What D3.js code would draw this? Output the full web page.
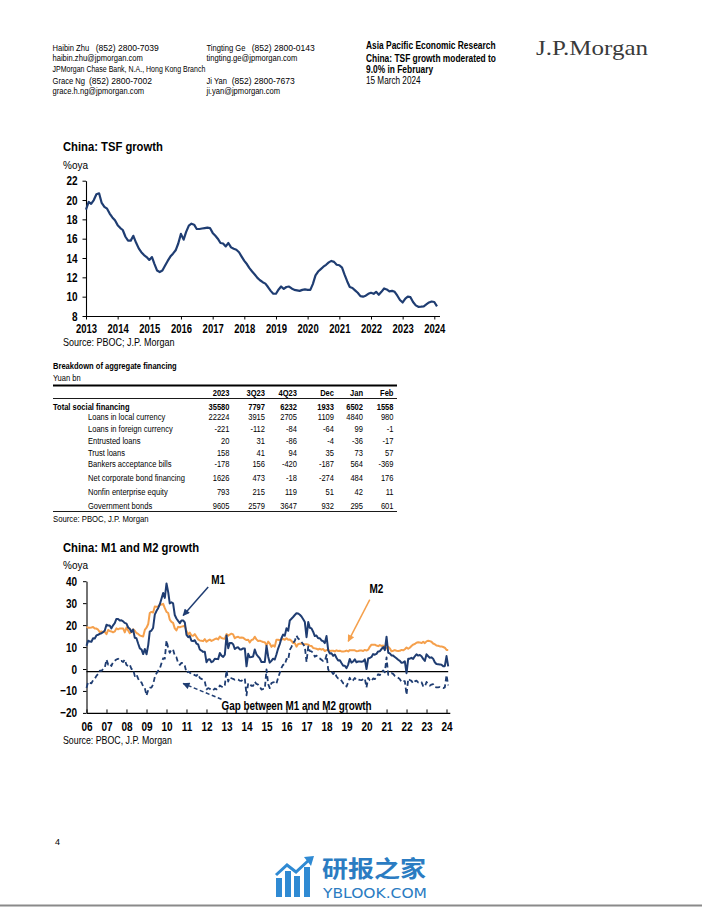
<!DOCTYPE html>
<html><head><meta charset="utf-8">
<script src="https://cdn.jsdelivr.net/npm/d3@7"></script>
<style>body{margin:0;background:#fff}svg{display:block}</style>
</head><body>
<svg id="page" width="702" height="907"></svg>
<script>
// ---------------- DATA ----------------
const tsfStart = [2013, 0];
const tsfGrowth = [
19.0,19.8,19.6,20.0,20.6,20.7,19.7,19.3,19.1,18.6,18.2,17.9,
17.4,17.1,16.9,16.2,15.8,15.8,16.3,15.6,15.0,14.6,14.3,14.1,
13.8,14.1,13.4,12.7,12.55,12.7,13.2,13.7,14.15,14.45,14.8,15.5,
16.5,15.9,16.7,17.35,17.55,17.45,17.0,17.0,17.05,17.1,17.15,17.1,
16.6,16.3,16.0,15.55,15.5,15.2,15.55,15.1,14.95,14.85,14.6,14.15,
13.7,13.35,12.95,12.6,12.3,11.95,11.7,11.5,11.35,11.0,10.6,10.3,
10.3,10.75,11.05,10.8,11.0,11.05,10.85,10.7,10.65,10.6,10.7,10.75,
10.7,10.7,11.3,12.2,12.6,12.85,13.1,13.3,13.55,13.7,13.6,13.3,
13.25,13.0,12.3,11.6,11.0,10.9,10.65,10.4,10.05,10.0,10.1,10.3,
10.4,10.3,10.5,10.2,10.5,10.85,10.75,10.55,10.6,10.5,10.1,9.65,
9.4,9.8,10.0,9.95,9.45,9.1,8.95,8.97,9.0,9.2,9.4,9.5,
9.45,9.0];
const tsfYTicks = [8,10,12,14,16,18,20,22];
const tsfXTicks = [2013,2014,2015,2016,2017,2018,2019,2020,2021,2022,2023,2024];

const moneyStart = [2006, 0];
const m1Growth = [
10.6,12.9,12.5,12.4,14.0,13.9,15.3,15.6,16.0,16.3,16.8,17.5,
20.2,19.8,19.8,18.5,19.9,20.9,22.8,22.8,22.1,22.2,21.7,21.0,
20.7,18.9,18.3,16.9,18.0,14.2,14.0,11.6,9.4,8.9,6.8,9.1,
6.7,10.9,17.0,17.5,18.7,24.8,26.4,27.7,29.5,32.0,34.6,32.4,
39.0,35.0,29.9,30.4,29.9,24.6,23.0,21.9,20.9,22.1,22.1,21.2,
15.5,14.5,15.0,12.9,12.7,13.1,11.6,11.2,8.9,8.4,7.8,7.9,
3.1,4.3,4.4,3.1,3.5,4.7,4.6,4.5,7.3,6.1,5.5,6.5,
15.3,9.5,11.9,11.9,11.3,9.1,9.7,9.9,8.9,8.9,9.4,9.3,
1.2,6.9,5.4,5.5,5.7,8.9,6.7,5.7,4.8,3.2,3.2,3.2,
10.6,5.6,2.9,3.7,4.7,4.3,6.6,9.3,11.4,14.0,15.7,15.2,
18.6,17.4,22.1,22.9,23.7,24.6,25.4,25.3,24.7,23.9,22.7,21.4,
14.5,21.4,18.8,18.5,17.0,15.0,15.3,14.0,14.0,13.0,12.7,11.8,
15.0,8.5,7.1,7.2,6.0,6.6,5.1,3.9,4.0,2.7,1.5,1.5,
0.4,2.0,4.6,2.9,3.4,4.4,3.1,3.4,3.4,3.3,3.5,4.4,
0.0,4.8,5.0,5.5,6.8,6.5,6.9,8.0,8.1,9.1,10.0,8.6,
14.7,7.4,7.1,6.2,6.1,5.5,4.9,4.2,3.7,2.8,3.0,3.5,
-1.9,4.7,4.7,5.1,4.6,5.8,6.7,6.1,6.4,5.8,4.6,3.7,
6.7,5.8,5.1,5.3,4.7,3.1,2.3,2.2,2.1,1.9,1.3,1.3,
5.9,1.2];
const m2Growth = [
19.2,18.8,18.8,18.9,19.1,18.4,18.4,17.9,16.8,17.1,16.8,16.9,
15.9,17.8,17.3,17.1,16.7,17.1,18.5,18.1,18.5,18.5,18.5,16.7,
18.9,17.5,16.3,16.9,18.1,17.4,16.4,16.0,15.3,15.0,14.8,17.8,
18.8,20.5,25.5,26.0,25.7,28.5,28.4,28.5,29.3,29.4,29.7,27.7,
26.0,25.5,22.5,21.5,21.0,18.5,17.6,19.2,19.0,19.3,19.5,19.7,
17.2,15.7,16.6,15.3,15.1,15.9,14.7,13.5,13.0,12.9,12.7,13.6,
12.4,13.0,13.4,12.8,13.2,13.6,13.9,13.5,14.8,14.1,13.9,13.8,
15.9,15.2,15.7,16.1,15.8,14.0,14.5,14.7,14.2,14.3,14.2,13.6,
13.2,13.3,12.1,13.2,13.4,14.7,13.5,12.8,12.9,12.6,12.3,12.2,
10.8,12.5,11.6,10.1,10.8,10.2,13.3,13.3,13.1,13.5,13.7,13.3,
14.0,13.3,13.4,12.8,11.8,11.8,10.2,11.4,11.5,11.6,11.4,11.3,
11.3,11.1,10.6,10.5,9.6,9.4,9.2,8.9,9.2,8.8,9.1,8.2,
8.6,8.8,8.2,8.3,8.3,8.0,8.5,8.2,8.3,8.0,8.0,8.1,
8.4,8.0,8.6,8.5,8.5,8.5,8.1,8.2,8.4,8.4,8.2,8.7,
8.4,8.8,10.1,11.1,11.1,11.1,10.7,10.4,10.9,10.5,10.7,10.1,
9.4,10.1,9.4,8.1,8.3,8.6,8.3,8.2,8.3,8.7,8.5,9.0,
9.8,9.2,9.7,10.5,11.1,11.4,12.0,12.2,12.1,11.8,12.4,11.8,
12.6,12.9,12.7,12.4,11.6,11.3,10.7,10.6,10.3,10.3,10.0,9.7,
8.7,8.7];
const m1m2Gap = [
-8.6,-5.9,-6.3,-6.5,-5.1,-4.5,-3.1,-2.3,-0.8,-0.8,0.0,0.6,
4.3,2.0,2.5,1.4,3.2,3.8,4.3,4.7,3.6,3.7,3.2,4.3,
1.8,1.4,2.0,0.0,-0.1,-3.2,-2.4,-4.4,-5.9,-6.1,-8.0,-8.7,
-12.1,-9.6,-8.5,-8.5,-7.0,-3.7,-2.0,-0.8,0.2,2.6,4.9,4.7,
13.0,9.5,7.4,8.9,8.9,6.1,5.4,2.7,1.9,2.8,2.6,1.5,
-1.7,-1.2,-1.6,-2.4,-2.4,-2.8,-3.1,-2.3,-4.1,-4.5,-4.9,-5.7,
-9.3,-8.7,-9.0,-9.7,-9.7,-8.9,-9.3,-9.0,-7.5,-8.0,-8.4,-7.3,
-0.6,-5.7,-3.8,-4.2,-4.5,-4.9,-4.8,-4.8,-5.3,-5.4,-4.8,-4.3,
-12.0,-6.4,-6.7,-7.7,-7.7,-5.8,-6.8,-7.1,-8.1,-9.4,-9.1,-9.0,
-0.2,-6.9,-8.7,-6.4,-6.1,-5.9,-6.7,-4.0,-1.7,0.5,2.0,1.9,
4.6,4.1,8.7,10.1,11.9,12.8,15.2,13.9,13.2,12.3,11.3,10.1,
3.2,10.3,8.2,8.0,7.4,5.6,6.1,5.1,4.8,4.2,3.6,3.6,
6.4,-0.3,-1.1,-1.1,-2.3,-1.4,-3.4,-4.3,-4.3,-5.3,-6.5,-6.6,
-8.0,-6.0,-4.0,-5.6,-5.1,-4.1,-5.0,-4.8,-5.0,-5.1,-4.7,-4.3,
-8.4,-4.0,-5.1,-5.6,-4.3,-4.6,-3.8,-2.4,-2.8,-1.4,-0.7,-1.5,
5.3,-2.7,-2.3,-1.9,-2.2,-3.1,-3.4,-4.0,-4.6,-5.9,-5.5,-5.5,
-11.7,-4.5,-5.0,-5.4,-6.5,-5.6,-5.3,-6.1,-5.7,-6.0,-7.8,-8.1,
-5.9,-7.1,-7.6,-7.1,-6.9,-8.2,-8.4,-8.4,-8.2,-8.4,-8.7,-8.4,
-2.8,-7.5];
const moneyYTicks = [-20,-10,0,10,20,30,40];
const moneyXTicks = [2006,2007,2008,2009,2010,2011,2012,2013,2014,2015,2016,2017,2018,2019,2020,2021,2022,2023,2024];
const gapReference = -1.2;

const tableColumns = ["2023","3Q23","4Q23","Dec","Jan","Feb"];
const tableRows = ["Total social financing","Loans in local currency","Loans in foreign currency","Entrusted loans","Trust loans","Bankers acceptance bills","Net corporate bond financing","Nonfin enterprise equity","Government bonds"];
const tableValues = [
[35580,7797,6232,1933,6502,1558],
[22224,3915,2705,1109,4840,980],
[-221,-112,-84,-64,99,-1],
[20,31,-86,-4,-36,-17],
[158,41,94,35,73,57],
[-178,156,-420,-187,564,-369],
[1626,473,-18,-274,484,176],
[793,215,119,51,42,11],
[9605,2579,3647,932,295,601]];

// ---------------- SETUP ----------------
const SANS = "'Liberation Sans',Arial,sans-serif";
const BLUE = "#1f3d72", ORANGE = "#f5a04c";
const svg = d3.select("#page");
svg.append("rect").attr("width",702).attr("height",907).attr("fill","#fff");

// texts are condensed horizontally (factor k) to mimic the narrow typeface of the original
function txt(x,y,s,o={}){
  const t = svg.append("text").attr("x",x).attr("y",y).text(s)
    .attr("font-family",o.ff||SANS).attr("font-size",o.size||10)
    .attr("font-weight",o.bold?"bold":"normal").attr("fill",o.fill||"#000")
    .attr("text-anchor",o.anchor||"start");
  if (o.k) t.attr("data-k",o.k);
  return t;
}

// ---------------- HEADER ----------------
const H = {size:9.5,k:0.8}, P = {size:9.5,k:0.9};
txt(52.5,50.7,"Haibin Zhu",H); txt(95.7,50.7,"(852) 2800-7039",P);
txt(52.5,60.7,"haibin.zhu@jpmorgan.com",H);
txt(52.5,72.2,"JPMorgan Chase Bank, N.A., Hong Kong Branch",{size:9,k:0.78});
txt(52.5,84,"Grace Ng",H); txt(89,84,"(852) 2800-7002",P);
txt(52.5,94,"grace.h.ng@jpmorgan.com",H);
txt(206.5,50.7,"Tingting Ge",H); txt(251.7,50.7,"(852) 2800-0143",P);
txt(206.5,60.7,"tingting.ge@jpmorgan.com",H);
txt(206.5,84,"Ji Yan",H); txt(231.7,84,"(852) 2800-7673",P);
txt(206.5,94,"ji.yan@jpmorgan.com",H);
txt(366,49.5,"Asia Pacific Economic Research",{size:10,bold:true,k:0.84});
txt(366,62,"China: TSF growth moderated to",{size:10,bold:true,k:0.84});
txt(366,73,"9.0% in February",{size:10,bold:true,k:0.84});
txt(366,84.5,"15 March 2024",{size:10,k:0.82});
txt(536,55,"J.P.Morgan",{ff:"'Liberation Serif','Times New Roman',serif",size:21,fill:"#3a3a3a"})
  .attr("textLength",112).attr("lengthAdjust","spacingAndGlyphs");

function styleAxis(g,size,k){
  g.attr("font-family",SANS).attr("font-size",size).attr("font-weight","bold");
  g.selectAll("path.domain").attr("stroke","#000").attr("stroke-width",1.1);
  g.selectAll(".tick line").attr("stroke","#000").attr("stroke-width",1);
  g.selectAll(".tick text").attr("fill","#000").attr("data-k",k);
}

// ---------------- TSF CHART ----------------
txt(63,151.5,"China: TSF growth",{size:13,bold:true,k:0.865});
txt(63,169,"%oya",{size:11.5,k:0.87});
const tsfDates = d3.timeMonth.range(new Date(tsfStart[0],tsfStart[1],1), new Date(tsfStart[0],tsfStart[1]+tsfGrowth.length,1));
const tx = d3.scaleTime().domain([new Date(2013,0,1), new Date(2024,2,1)]).range([86, 439.5]);
const ty = d3.scaleLinear().domain([8,22]).range([316,180.7]);
const tsfY = svg.append("g").attr("transform","translate(86,0)")
  .call(d3.axisLeft(ty).tickValues(tsfYTicks).tickSize(3.5).tickSizeOuter(0).tickPadding(5).tickFormat(d3.format("d")));
styleAxis(tsfY,12.5,0.8);
const tsfX = svg.append("g").attr("transform","translate(0,316)")
  .call(d3.axisBottom(tx).tickValues(tsfXTicks.map(y=>new Date(y,0,1))).tickSize(3.5).tickSizeOuter(0).tickPadding(4.5).tickFormat(d3.timeFormat("%Y")));
styleAxis(tsfX,12.5,0.76);
svg.append("path").datum(tsfGrowth)
  .attr("fill","none").attr("stroke",BLUE).attr("stroke-width",2.2).attr("stroke-linejoin","round")
  .attr("d",d3.line().x((d,i)=>tx(tsfDates[i])).y(d=>ty(d)));
txt(63,346.5,"Source: PBOC; J.P. Morgan",{size:11,k:0.82});

// ---------------- TABLE ----------------
const TK = 0.84;
txt(53,369.5,"Breakdown of aggregate financing",{size:9,bold:true,k:TK});
txt(53,381,"Yuan bn",{size:9,k:TK});
const colX = d3.scaleOrdinal().domain(tableColumns).range([229.5,265,297,334,363,393.5]);
const rowY = d3.scaleOrdinal().domain(["__head"].concat(tableRows)).range([392.7,406.7,417.3,428.7,441.3,452.7,464,478.3,491.7,506.3]);
svg.append("line").attr("x1",53).attr("x2",397).attr("y1",385.5).attr("y2",385.5).attr("stroke","#000").attr("stroke-width",2);
svg.append("line").attr("x1",53).attr("x2",397).attr("y1",398.5).attr("y2",398.5).attr("stroke","#000").attr("stroke-width",0.9);
svg.append("line").attr("x1",53).attr("x2",397).attr("y1",511.5).attr("y2",511.5).attr("stroke","#000").attr("stroke-width",0.9);
tableColumns.forEach(c=>{
  txt(colX(c),rowY("__head")+3.2,c,{size:9,bold:true,anchor:"end",k:TK});
});
tableRows.forEach((r,i)=>{
  const bold = i===0;
  txt(bold?53:88,rowY(r)+3.2,r,{size:9,bold:bold,k:TK});
  tableColumns.forEach((c,j)=>{
    txt(colX(c),rowY(r)+3.2,String(tableValues[i][j]),{size:9,bold:bold,anchor:"end",k:TK});
  });
});
txt(53,522,"Source: PBOC, J.P. Morgan",{size:9,k:0.86});

// ---------------- M1 / M2 CHART ----------------
txt(63,552.5,"China: M1 and M2 growth",{size:13,bold:true,k:0.865});
txt(63,569,"%oya",{size:11.5,k:0.87});
const mDates = d3.timeMonth.range(new Date(moneyStart[0],moneyStart[1],1), new Date(moneyStart[0],moneyStart[1]+m1Growth.length,1));
const mx = d3.scaleTime().domain([new Date(2006,0,1), new Date(2024,2,1)]).range([86.5, 449.8]);
const my = d3.scaleLinear().domain([-20,40]).range([712.9,581.2]);
const mY = svg.append("g").attr("transform","translate(86.5,0)")
  .call(d3.axisLeft(my).tickValues(moneyYTicks).tickSize(3.5).tickSizeOuter(0).tickPadding(6).tickFormat(d3.format("d")));
styleAxis(mY,12.5,0.8);
const mX = svg.append("g").attr("transform","translate(0,712.9)")
  .call(d3.axisBottom(mx).tickValues(moneyXTicks.map(y=>new Date(y,0,1))).tickSize(-3.5).tickSizeOuter(0).tickPadding(9.5).tickFormat(d3.timeFormat("%y")));
styleAxis(mX,12.5,0.8);
svg.append("line").attr("x1",mx.range()[0]).attr("x2",mx(new Date(2024,1,1)))
  .attr("y1",my(gapReference)).attr("y2",my(gapReference)).attr("stroke","#000").attr("stroke-width",1.2);
const mline = d3.line().x((d,i)=>mx(mDates[i])).y(d=>my(d));
svg.append("path").datum(m2Growth).attr("fill","none").attr("stroke",ORANGE).attr("stroke-width",2).attr("stroke-linejoin","round").attr("d",mline);
svg.append("path").datum(m1Growth).attr("fill","none").attr("stroke",BLUE).attr("stroke-width",2).attr("stroke-linejoin","round").attr("d",mline);
svg.append("path").datum(m1m2Gap).attr("fill","none").attr("stroke",BLUE).attr("stroke-width",1.8).attr("stroke-dasharray","5,3").attr("stroke-linejoin","round").attr("d",mline);

// annotations (in data coordinates)
const defs = svg.append("defs");
function marker(id,color){
  defs.append("marker").attr("id",id).attr("viewBox","0 0 10 10").attr("refX",9).attr("refY",5)
    .attr("markerWidth",9).attr("markerHeight",7).attr("markerUnits","userSpaceOnUse").attr("orient","auto")
    .append("path").attr("d","M0,0L10,5L0,10Z").attr("fill",color);
}
marker("arrB",BLUE); marker("arrO",ORANGE);
const t = yr => new Date(Math.floor(yr), Math.round((yr%1)*12), 1);
function arrow(t0,v0,t1,v1,color,id,dash){
  svg.append("line").attr("x1",mx(t(t0))).attr("y1",my(v0)).attr("x2",mx(t(t1))).attr("y2",my(v1))
    .attr("stroke",color).attr("stroke-width",1.5).attr("stroke-dasharray",dash||null).attr("marker-end",`url(#${id})`);
}
txt(mx(t(2012.58)),my(38.6),"M1",{size:12.5,bold:true,anchor:"middle",k:0.8});
arrow(2012.1,37.4,2010.85,24.4,BLUE,"arrB");
txt(mx(t(2020.5)),my(34.6),"M2",{size:12.5,bold:true,anchor:"middle",k:0.8});
arrow(2020.2,31.6,2019.1,12.6,ORANGE,"arrO");
txt(mx(t(2012.75)),my(-18.6),"Gap between M1 and M2 growth",{size:12.5,bold:true,k:0.79});
arrow(2012.75,-13.8,2010.85,-6.6,BLUE,"arrB","4,2.5");
txt(63,744,"Source: PBOC, J.P. Morgan",{size:11,k:0.8});

// ---------------- FOOTER ----------------
txt(55,844.5,"4",{size:9});
const logo = svg.append("g").attr("transform","translate(276,857)");
[[0,21,6,19],[9,14,6,26],[18,19,6,21],[28,10,6,30]].forEach(b=>{
  logo.append("rect").attr("x",b[0]).attr("y",b[1]).attr("width",b[2]).attr("height",b[3]).attr("fill","#2f8ad3");
});
logo.append("path").attr("d","M0,18 L11,8 L20,15 L33,3").attr("fill","none").attr("stroke","#2f8ad3").attr("stroke-width",3);
logo.append("path").attr("d","M28,0 L38,-1 L35,9 Z").attr("fill","#2f8ad3");
txt(322,876.5,"研报之家",{ff:"'Noto Sans CJK SC','Noto Sans',sans-serif",size:22.5,fill:"#2b7cc2",bold:true})
  .attr("textLength",104).attr("lengthAdjust","spacingAndGlyphs");
txt(323,897.5,"YBLOOK.COM",{ff:"'DejaVu Sans',sans-serif",size:14,fill:"#2b7cc2"})
  .attr("textLength",104).attr("lengthAdjust","spacingAndGlyphs");
svg.append("line").attr("x1",0).attr("x2",702).attr("y1",905.5).attr("y2",905.5).attr("stroke","#8a8a8a").attr("stroke-width",2);

// apply horizontal condensing around each text's anchor x
svg.selectAll("text[data-k]").each(function(){
  const k = +this.getAttribute("data-k");
  const x = +(this.getAttribute("x")||0);
  this.setAttribute("transform",`translate(${x*(1-k)},0) scale(${k},1)`);
});
</script>
</body></html>
